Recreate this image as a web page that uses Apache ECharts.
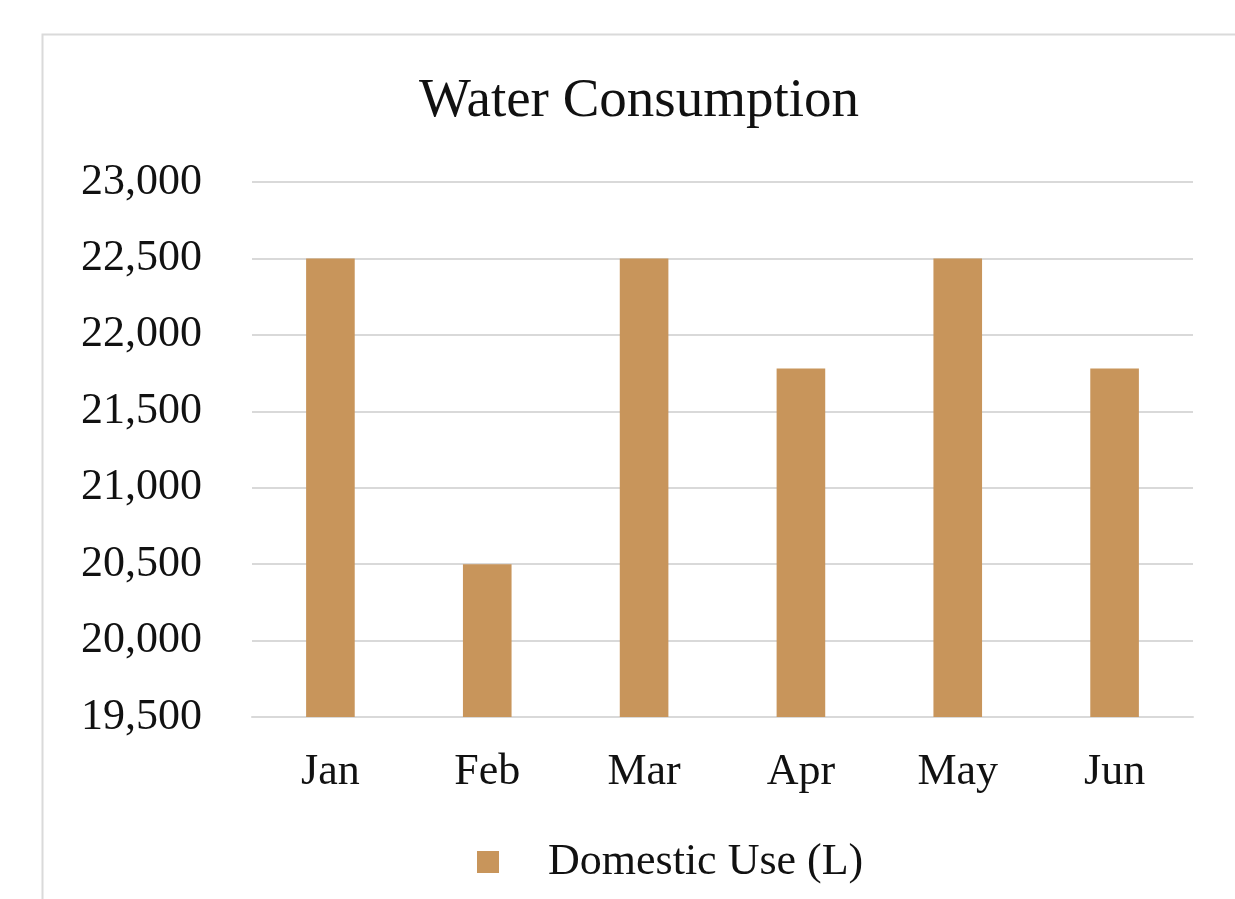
<!DOCTYPE html>
<html>
<head>
<meta charset="utf-8">
<title>Water Consumption</title>
<script src="https://cdn.jsdelivr.net/npm/echarts@6/dist/echarts.min.js"></script>
<style>
  html, body { margin: 0; padding: 0; background: #ffffff; }
  #chart { width: 1235px; height: 899px; }
</style>
</head>
<body>
<div id="chart"></div>
<script>
// Monthly domestic water use, litres
const months = ['Jan', 'Feb', 'Mar', 'Apr', 'May', 'Jun'];
const domesticUse = [22500, 20500, 22500, 21780, 22500, 21780];
const seriesName = 'Domestic Use (L)';
const chartTitle = 'Water Consumption';
const yMin = 19500;
const yMax = 23000;
const yStep = 500;

const serif = '"Liberation Serif", "Times New Roman", serif';
const barColor = '#C8955B';
const gridColor = '#D9D9D9';
const textColor = '#111111';

const chart = echarts.init(document.getElementById('chart'), null, { renderer: 'canvas' });

chart.setOption({
  backgroundColor: '#ffffff',
  animation: false,
  graphic: [
    {
      // card outline around the chart
      type: 'rect',
      left: 40,
      top: 32,
      shape: { width: 1300, height: 1000 },
      style: { fill: 'none', stroke: '#DADADA', lineWidth: 2 },
      silent: true,
      z: -1
    }
  ],
  title: {
    text: chartTitle,
    left: 419,
    top: 74,
    padding: 0,
    textStyle: {
      fontFamily: serif,
      fontSize: 55,
      fontWeight: 'normal',
      color: textColor
    }
  },
  legend: {
    data: [seriesName],
    left: 477,
    top: 840,
    padding: 0,
    itemWidth: 22,
    itemHeight: 22,
    icon: 'rect',
    textStyle: {
      fontFamily: serif,
      fontSize: 44,
      color: textColor,
      padding: [0, 0, 0, 44]
    }
  },
  grid: {
    left: 252,
    right: 42,
    top: 182,
    bottom: 182,
    containLabel: false
  },
  xAxis: {
    type: 'category',
    data: months,
    axisLine: { show: true, lineStyle: { color: gridColor, width: 2 } },
    axisTick: { show: false },
    axisLabel: {
      fontFamily: serif,
      fontSize: 44,
      color: textColor,
      margin: 33
    }
  },
  yAxis: {
    type: 'value',
    min: yMin,
    max: yMax,
    interval: yStep,
    axisLine: { show: false },
    axisTick: { show: false },
    splitLine: { lineStyle: { color: gridColor, width: 2 } },
    axisLabel: {
      fontFamily: serif,
      fontSize: 44,
      color: textColor,
      margin: 50,
      formatter: function (v) { return v.toLocaleString('en-US'); }
    }
  },
  series: [
    {
      name: seriesName,
      type: 'bar',
      data: domesticUse,
      barWidth: '31%',
      itemStyle: { color: barColor }
    }
  ]
});
</script>
</body>
</html>
